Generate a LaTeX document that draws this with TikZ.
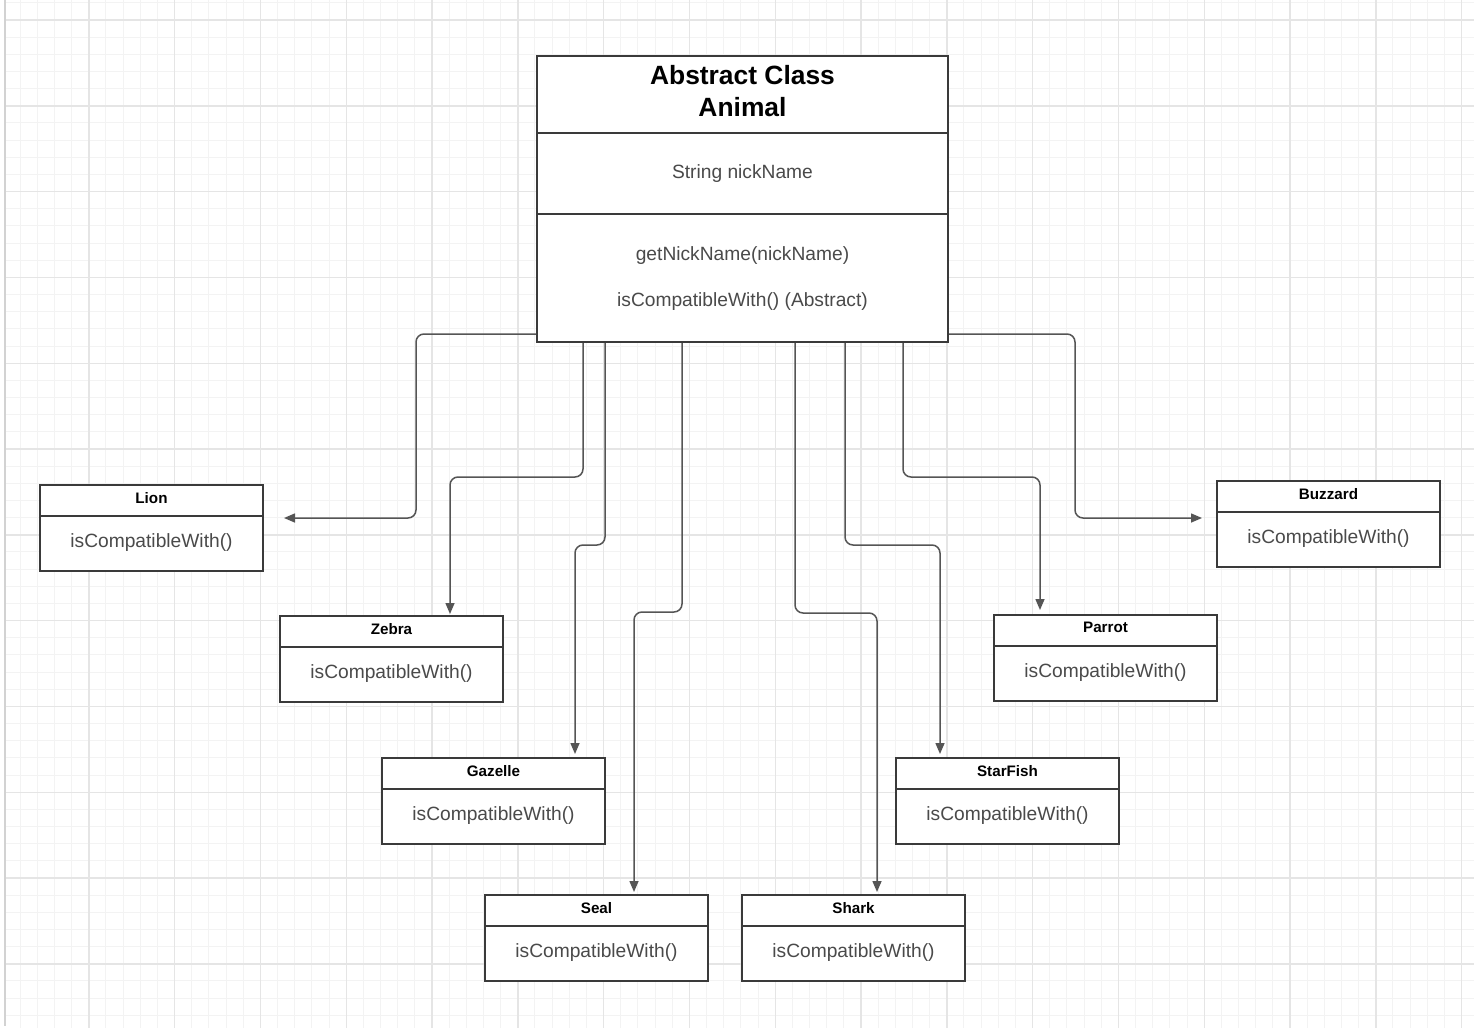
\documentclass[tikz,border=0pt]{standalone}
\usepackage{fontspec}
\setmainfont{Liberation Sans}
\usetikzlibrary{arrows.meta}
\definecolor{gridminor}{HTML}{F3F3F3}
\definecolor{gridmajor}{HTML}{E5E5E5}
\definecolor{edgegrey}{HTML}{D2D2D2}
\definecolor{boxcol}{HTML}{3A3A3A}
\definecolor{conncol}{HTML}{555555}
\definecolor{txtcol}{HTML}{4A4A4A}
\tikzset{
 umlbox/.style={draw=boxcol, line width=1pt, fill=white, inner sep=0pt, minimum width=111.5pt, minimum height=43pt, anchor=north west},
 bigbox/.style={draw=boxcol, line width=1pt, fill=white, inner sep=0pt, minimum width=205.5pt, minimum height=143pt, anchor=north west},
 divider/.style={draw=boxcol, line width=1pt},
 smalltitle/.style={font=\bfseries\fontsize{7.6}{9}\selectfont, text=black, inner sep=0pt},
 bigtitle/.style={font=\bfseries\fontsize{13.2}{16}\selectfont, text=black, align=center, inner sep=0pt},
 bodytext/.style={font=\fontsize{9.6}{11.5}\selectfont, text=txtcol, inner sep=0pt},
 conn/.style={draw=conncol, line width=0.75pt, rounded corners=4pt, -{Triangle[length=5.5pt,width=4.5pt]}},
 minorline/.style={draw=gridminor, line width=0.5pt},
 majorline/.style={draw=gridmajor, line width=0.7pt},
}
\newcommand{\umlclass}[4]{%
 \node[umlbox] (#1) at (#2,#3) {};
 \draw[divider] ([yshift=-16pt]#1.north west) -- ([yshift=-16pt]#1.north east);
 \node[smalltitle] (#1-title) at ([yshift=-6.8pt]#1.north) {#4};
 \node[bodytext] (#1-body) at ([yshift=-29.5pt]#1.north) {isCompatibleWith()};
}
\begin{document}
\begin{tikzpicture}[x=0.5pt,y=-0.5pt]
\useasboundingbox (0,0) rectangle (1474,1028);
\fill[white] (0,0) rectangle (1474,1028);
% grid
\begin{scope}
\clip (5,0) rectangle (1474,1028);
\foreach \i in {0,...,86} \draw[minorline] ({3+17.16*\i},0) -- ({3+17.16*\i},1028);
\foreach \i in {-1,...,59} \draw[minorline] (0,{20+17.16*\i}) -- (1474,{20+17.16*\i});
\foreach \i in {0,...,17} \draw[majorline] ({3+85.8*\i},0) -- ({3+85.8*\i},1028);
\foreach \i in {0,...,11} \draw[majorline] (0,{20+85.8*\i}) -- (1474,{20+85.8*\i});
\end{scope}
\draw[edgegrey, line width=1.2pt] (5,0) -- (5,1026);

% abstract class
\node[bigbox] (animal) at (536,55) {};
\draw[divider] ([yshift=-39pt]animal.north west) -- ([yshift=-39pt]animal.north east);
\draw[divider] ([yshift=-79.5pt]animal.north west) -- ([yshift=-79.5pt]animal.north east);
\node[bigtitle] (animal-title) at ([yshift=-18pt]animal.north) {Abstract Class\\Animal};
\node[bodytext] (animal-attr) at ([yshift=-59.5pt]animal.north) {String nickName};
\node[bodytext] (animal-m1) at ([yshift=-100.5pt]animal.north) {getNickName(nickName)};
\node[bodytext] (animal-m2) at ([yshift=-123.5pt]animal.north) {isCompatibleWith() (Abstract)};

% subclasses
\umlclass{lion}{39}{484}{Lion}
\umlclass{zebra}{279}{615}{Zebra}
\umlclass{gazelle}{381}{757}{Gazelle}
\umlclass{seal}{484}{894}{Seal}
\umlclass{shark}{741}{894}{Shark}
\umlclass{starfish}{895}{757}{StarFish}
\umlclass{parrot}{993}{614}{Parrot}
\umlclass{buzzard}{1216}{480}{Buzzard}

% connectors
\draw[conn, shorten >=10pt] (animal.west |- 0,334) -- (416,334) -- (416,518) -- (lion.east |- 0,518);
\draw[conn, shorten >=0.5pt] (583,0 |- animal.south) -- (583,477) -- (450,477) -- (450,0 |- zebra.north);
\draw[conn, shorten >=1.5pt] (605,0 |- animal.south) -- (605,545) -- (575,545) -- (575,0 |- gazelle.north);
\draw[conn, shorten >=1pt] (682,0 |- animal.south) -- (682,612) -- (634,612) -- (634,0 |- seal.north);
\draw[conn, shorten >=1pt] (795,0 |- animal.south) -- (795,613) -- (877,613) -- (877,0 |- shark.north);
\draw[conn, shorten >=1.5pt] (845,0 |- animal.south) -- (845,545) -- (940,545) -- (940,0 |- starfish.north);
\draw[conn, shorten >=2pt] (903,0 |- animal.south) -- (903,477) -- (1040,477) -- (1040,0 |- parrot.north);
\draw[conn, shorten >=7pt] (animal.east |- 0,334) -- (1075,334) -- (1075,518) -- (buzzard.west |- 0,518);
\end{tikzpicture}
\end{document}
